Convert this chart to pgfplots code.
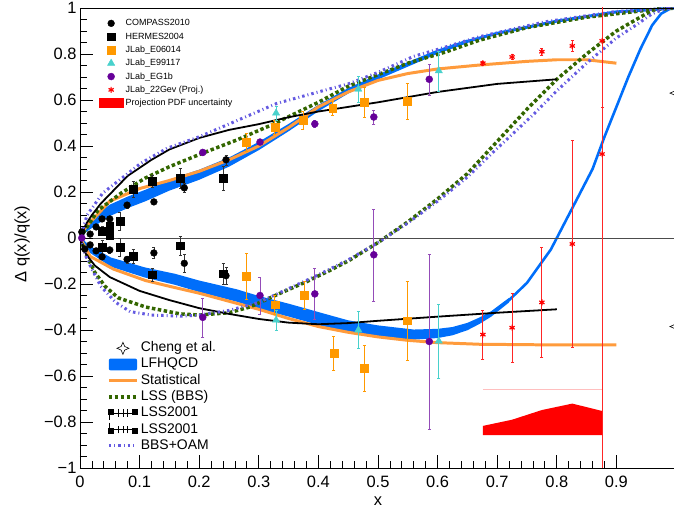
\documentclass[border=0pt]{standalone}
\usepackage{pgfplots}
\pgfplotsset{compat=1.18}
\usepackage{fontspec}
\setmainfont{Liberation Sans}

\definecolor{lfblue}{RGB}{0,110,250}
\definecolor{statorange}{RGB}{255,155,60}
\definecolor{eorange}{RGB}{255,153,0}
\definecolor{lssgreen}{RGB}{51,102,0}
\definecolor{oamviolet}{RGB}{100,90,225}
\definecolor{ecyan}{RGB}{72,209,204}
\definecolor{egpurple}{RGB}{102,0,153}

\pgfdeclareplotmark{star4}{%
  \pgfpathmoveto{\pgfqpoint{0pt}{\pgfplotmarksize}}%
  \pgfpathlineto{\pgfqpoint{0.3\pgfplotmarksize}{0.3\pgfplotmarksize}}%
  \pgfpathlineto{\pgfqpoint{\pgfplotmarksize}{0pt}}%
  \pgfpathlineto{\pgfqpoint{0.3\pgfplotmarksize}{-0.3\pgfplotmarksize}}%
  \pgfpathlineto{\pgfqpoint{0pt}{-\pgfplotmarksize}}%
  \pgfpathlineto{\pgfqpoint{-0.3\pgfplotmarksize}{-0.3\pgfplotmarksize}}%
  \pgfpathlineto{\pgfqpoint{-\pgfplotmarksize}{0pt}}%
  \pgfpathlineto{\pgfqpoint{-0.3\pgfplotmarksize}{0.3\pgfplotmarksize}}%
  \pgfpathclose\pgfusepathqstroke}

\pgfplotsset{
  base/.style={scale only axis, width=596bp, height=460bp,
    xmin=0, xmax=1, ymin=-1, ymax=1, at={(0,0)}, anchor=south west},
  lgmark/.style={legend image code/.code={%
    \draw[mark repeat=2,mark phase=2,##1] plot coordinates {(0cm,0cm) (0.44cm,0cm) (0.88cm,0cm)};}},
  lgcheng/.style={legend image code/.code={%
    \draw[mark repeat=2,mark phase=2,##1] plot coordinates {(0cm,0cm) (0.5cm,0cm) (1cm,0cm)};}},
  lgline/.style={legend image code/.code={\draw[##1] (0cm,0cm) -- (1cm,0cm);}},
  lgband/.style={legend image code/.code={\fill[lfblue, rounded corners=2bp] (0cm,-0.21cm) rectangle (1cm,0.21cm);}},
  lgred/.style={legend image code/.code={\fill[red] (0cm,-0.17cm) rectangle (0.88cm,0.17cm);}},
  lglssA/.style={legend image code/.code={\draw[black,line width=1pt] (0cm,0cm) -- (1cm,0cm);
    \foreach \t in {0.35,0.5,0.65} {\draw[black,line width=0.8pt] (\t cm,-0.13cm) -- (\t cm,0.13cm);}
    \fill[black] (0.08cm,0.05cm) +(-2bp,-2bp) rectangle +(2bp,2bp);
    \fill[black] (0.92cm,0.05cm) +(-2bp,-2bp) rectangle +(2bp,2bp);
    \draw[black,line width=1.2pt] (0.02cm,0.1cm) -- (0.02cm,-0.25cm);}},
  lglssB/.style={legend image code/.code={\draw[black,line width=1pt] (0cm,0cm) -- (1cm,0cm);
    \foreach \t in {0.35,0.5,0.65} {\draw[black,line width=0.8pt] (\t cm,-0.13cm) -- (\t cm,0.13cm);}
    \fill[black] (0.08cm,-0.05cm) +(-2bp,-2bp) rectangle +(2bp,2bp);
    \fill[black] (0.92cm,-0.05cm) +(-2bp,-2bp) rectangle +(2bp,2bp);
    \draw[black,line width=1.2pt] (0.02cm,0.25cm) -- (0.02cm,-0.1cm);}},
  pts/.style={only marks, error bars/y dir=both, error bars/y explicit,
    error bars/error mark options={rotate=90, mark size=1.5pt},
    error bars/error bar style={#1}},
}

\begin{document}
\begin{tikzpicture}
\useasboundingbox (-80bp,-45bp) rectangle (594bp,468bp);

% --- model curves ---
\begin{axis}[base, hide axis,
  legend style={at={(axis description cs:0.045,0.277)}, anchor=north west,
    draw=none, fill=none, inner sep=0pt, row sep=1.2bp,
    font=\fontsize{14}{16}\selectfont,
    nodes={inner xsep=2bp, inner ysep=1bp, text height=10bp, text depth=3bp}},
  legend cell align=left,
]
\addplot[only marks, mark=star4, mark size=6bp, black, line width=0.6pt, lgcheng]
  coordinates {(1,0.63) (1,-0.385)};
\addlegendentry{Cheng et al.}

\addplot[fill=lfblue, draw=none, lgband]
  coordinates {(0,0.005)(0.01,0.055)(0.025,0.097)(0.05,0.145)(0.08,0.18)(0.11,0.21)(0.15,0.254)
  (0.2,0.297)(0.25,0.35)(0.3,0.418)(0.35,0.496)(0.4,0.579)(0.45,0.652)(0.5,0.711)(0.55,0.765)
  (0.6,0.819)(0.65,0.863)(0.65,0.847)(0.6,0.801)(0.55,0.745)(0.5,0.689)(0.45,0.628)(0.4,0.551)
  (0.35,0.464)(0.3,0.382)(0.25,0.31)(0.2,0.253)(0.15,0.206)(0.11,0.16)(0.08,0.13)(0.05,0.095)
  (0.025,0.053)(0.01,0.025)(0,-0.005)} --cycle;
\addlegendentry{LFHQCD}
\addplot[fill=lfblue, draw=none, forget plot]
  coordinates {(0,0.005)(0.017,-0.035)(0.052,-0.085)(0.109,-0.128)(0.16,-0.156)(0.2,-0.185)
  (0.263,-0.223)(0.3,-0.252)(0.352,-0.287)(0.4,-0.322)(0.45,-0.358)(0.5,-0.38)(0.56,-0.398)
  (0.6,-0.395)(0.625,-0.387)(0.65,-0.369)(0.67,-0.346)(0.69,-0.318)(0.72,-0.26)
  (0.72,-0.28)(0.69,-0.342)(0.67,-0.374)(0.65,-0.401)(0.625,-0.423)(0.6,-0.435)(0.56,-0.442)
  (0.5,-0.43)(0.45,-0.412)(0.4,-0.378)(0.352,-0.343)(0.3,-0.308)(0.263,-0.277)(0.2,-0.235)
  (0.16,-0.204)(0.109,-0.172)(0.052,-0.125)(0.017,-0.065)(0,-0.005)} --cycle;
\addplot[lfblue, line width=3pt, forget plot]
  coordinates {(0,0)(0.01,0.04)(0.025,0.075)(0.05,0.12)(0.08,0.155)(0.11,0.185)(0.15,0.23)
  (0.2,0.275)(0.25,0.33)(0.3,0.40)(0.35,0.48)(0.4,0.565)(0.45,0.64)(0.5,0.70)(0.55,0.755)
  (0.6,0.81)(0.65,0.855)(0.7,0.89)(0.8,0.943)(0.9,0.983)(1,1.0)};
\addplot[lfblue, line width=2.6pt, forget plot]
  coordinates {(0,0)(0.017,-0.05)(0.052,-0.105)(0.109,-0.15)(0.16,-0.18)(0.2,-0.21)(0.263,-0.25)
  (0.3,-0.28)(0.352,-0.315)(0.4,-0.35)(0.45,-0.385)(0.5,-0.405)(0.56,-0.42)(0.6,-0.415)
  (0.625,-0.405)(0.65,-0.385)(0.67,-0.36)(0.69,-0.33)(0.72,-0.27)(0.75,-0.195)(0.79,-0.05)
  (0.81,0.05)(0.84,0.2)(0.86,0.30)(0.88,0.44)(0.9,0.57)(0.92,0.70)(0.94,0.82)(0.96,0.925)
  (0.975,0.975)(0.99,0.997)(1,1.0)};

\addplot[statorange, line width=3pt, lgline]
  coordinates {(0,0)(0.01,0.05)(0.025,0.09)(0.05,0.16)(0.1,0.215)(0.15,0.25)(0.2,0.29)
  (0.25,0.34)(0.3,0.40)(0.35,0.48)(0.4,0.57)(0.45,0.635)(0.5,0.685)(0.55,0.715)(0.6,0.735)
  (0.67,0.752)(0.75,0.768)(0.8,0.775)(0.85,0.775)(0.9,0.76)};
\addlegendentry{Statistical}
\addplot[statorange, line width=3pt, forget plot]
  coordinates {(0,0)(0.017,-0.08)(0.056,-0.135)(0.11,-0.185)(0.15,-0.21)(0.2,-0.24)(0.25,-0.275)
  (0.3,-0.31)(0.35,-0.35)(0.4,-0.385)(0.45,-0.41)(0.5,-0.43)(0.55,-0.445)(0.6,-0.455)
  (0.67,-0.462)(0.8,-0.465)(0.9,-0.465)};

\addplot[lssgreen, line width=3.5pt, dash pattern=on 3.5pt off 2.5pt, lgline]
  coordinates {(0,0)(0.01,0.04)(0.03,0.12)(0.069,0.195)(0.109,0.26)(0.15,0.31)(0.207,0.37)
  (0.263,0.426)(0.32,0.49)(0.4,0.59)(0.45,0.66)(0.5,0.71)(0.55,0.76)(0.615,0.81)(0.67,0.86)
  (0.75,0.915)(0.85,0.96)(0.95,0.99)(1,1)};
\addlegendentry{LSS (BBS)}
\addplot[lssgreen, line width=3.5pt, dash pattern=on 3.5pt off 2.5pt, forget plot]
  coordinates {(0,0)(0.01,-0.07)(0.025,-0.15)(0.042,-0.21)(0.064,-0.26)(0.11,-0.30)(0.168,-0.33)
  (0.2,-0.335)(0.25,-0.325)(0.285,-0.30)(0.336,-0.24)(0.38,-0.19)(0.42,-0.14)(0.45,-0.10)
  (0.5,-0.02)(0.55,0.07)(0.6,0.17)(0.65,0.28)(0.7,0.42)(0.75,0.56)(0.8,0.69)(0.85,0.80)
  (0.9,0.90)(0.95,0.975)(0.97,1.0)(1,1)};

\addplot[black, line width=1.8pt, lglssA]
  coordinates {(0,0)(0.01,0.06)(0.02,0.1)(0.035,0.15)(0.05,0.19)(0.08,0.27)(0.12,0.34)
  (0.15,0.385)(0.2,0.435)(0.25,0.47)(0.3,0.495)(0.35,0.525)(0.4,0.55)(0.5,0.59)(0.6,0.635)
  (0.7,0.67)(0.8,0.69)};
\addlegendentry{LSS2001}
\addplot[black, line width=1.8pt, lglssB]
  coordinates {(0,0)(0.01,-0.07)(0.025,-0.12)(0.05,-0.17)(0.1,-0.23)(0.15,-0.27)(0.2,-0.305)
  (0.25,-0.33)(0.3,-0.352)(0.35,-0.368)(0.4,-0.375)(0.45,-0.37)(0.5,-0.36)(0.6,-0.342)
  (0.7,-0.325)(0.8,-0.31)};
\addlegendentry{LSS2001}

\addplot[oamviolet, line width=3pt, dash pattern=on 2.5pt off 3pt on 1pt off 3pt, lgline]
  coordinates {(0,0)(0.012,0.1)(0.038,0.195)(0.08,0.28)(0.102,0.325)(0.146,0.39)(0.2,0.44)
  (0.263,0.51)(0.33,0.585)(0.4,0.635)(0.45,0.67)(0.5,0.72)(0.56,0.79)(0.6,0.82)(0.67,0.875)
  (0.78,0.94)(0.9,0.985)(1,1)};
\addlegendentry{BBS+OAM}
\addplot[oamviolet, line width=3pt, dash pattern=on 2.5pt off 3pt on 1pt off 3pt, forget plot]
  coordinates {(0,0)(0.01,-0.08)(0.018,-0.125)(0.035,-0.21)(0.06,-0.28)(0.084,-0.32)(0.12,-0.335)
  (0.17,-0.34)(0.2,-0.335)(0.25,-0.315)(0.3,-0.28)(0.35,-0.22)(0.4,-0.16)(0.45,-0.095)
  (0.5,-0.02)(0.55,0.065)(0.6,0.16)(0.65,0.265)(0.7,0.39)(0.76,0.535)(0.8,0.64)(0.85,0.76)
  (0.9,0.87)(0.928,0.917)(0.96,0.975)(0.985,1.0)(1,1)};

\addplot[black!70, line width=0.8pt, forget plot] coordinates {(0,0) (1,0)};
\end{axis}

% --- data points, frame and ticks ---
\begin{axis}[base,
  axis line style={line width=0.9pt},
  tick align=inside, tick style={black, line width=0.8pt},
  major tick length=13bp, minor tick length=7bp,
  xtick pos=bottom, ytick pos=left,
  xtick={0,0.1,...,0.9}, minor x tick num=4,
  xticklabels={0,0.1,0.2,0.3,0.4,0.5,0.6,0.7,0.8,0.9},
  ytick={-1,-0.8,...,1}, minor y tick num=3,
  yticklabels={−1,−0.8,−0.6,−0.4,−0.2,0,0.2,0.4,0.6,0.8,1},
  tick label style={font=\fontsize{16.5}{18}\selectfont},
  xticklabel style={yshift=-5bp},
  xlabel={x}, ylabel={Δ q(x)/q(x)},
  every axis x label/.style={at={(axis description cs:0.5,-0.072)}, anchor=center,
    font=\fontsize{16.5}{18}\selectfont},
  every axis y label/.style={at={(axis description cs:-0.097,0.487)}, rotate=90, anchor=center,
    font=\fontsize{16.5}{18}\selectfont},
  legend style={at={(axis description cs:0.031,0.979)}, anchor=north west,
    draw=none, fill=none, inner sep=0pt, row sep=2.3bp,
    font=\fontsize{9}{10}\selectfont,
    nodes={inner xsep=2bp, inner ysep=1bp, text height=7bp, text depth=2bp}},
  legend cell align=left,
]
\addplot[pts={black!80, line width=0.7pt}, lgmark, mark=*, mark size=3.4bp, black]
  coordinates {
  (0.003,0.026) +- (0,0.01) (0.017,0.017) +- (0,0.01) (0.027,0.048) +- (0,0.01)
  (0.037,0.083) +- (0,0.012) (0.05,0.083) +- (0,0.012) (0.079,0.143) +- (0,0.012)
  (0.124,0.157) +- (0,0.012) (0.175,0.218) +- (0,0.02) (0.245,0.34) +- (0,0.022)
  (0.008,-0.048) +- (0,0.01) (0.017,-0.03) +- (0,0.01) (0.027,-0.056) +- (0,0.01)
  (0.037,-0.082) +- (0,0.012) (0.05,-0.052) +- (0,0.012) (0.079,-0.093) +- (0,0.015)
  (0.124,-0.065) +- (0,0.025) (0.175,-0.11) +- (0,0.04) (0.245,-0.164) +- (0,0.035)};
\addlegendentry{COMPASS2010}

\addplot[pts={black!80, line width=0.7pt}, lgmark, mark=square*, mark size=3.8bp, black]
  coordinates {
  (0.037,0.03) +- (0,0.02) (0.05,0.052) +- (0,0.03) (0.05,0.013) +- (0,0.02)
  (0.067,0.074) +- (0,0.04) (0.089,0.213) +- (0,0.036) (0.121,0.248) +- (0,0.025)
  (0.168,0.26) +- (0,0.043) (0.24,0.26) +- (0,0.054)
  (0.037,-0.04) +- (0,0.03) (0.067,-0.04) +- (0,0.04) (0.089,-0.08) +- (0,0.03)
  (0.121,-0.16) +- (0,0.03) (0.168,-0.034) +- (0,0.04) (0.24,-0.156) +- (0,0.047)};
\addlegendentry{HERMES2004}

\addplot[pts={eorange, line width=0.8pt}, lgmark, mark=square*, mark size=3.9bp, eorange]
  coordinates {
  (0.279,0.417) +- (0,0.04) (0.327,0.483) +- (0,0.03) (0.374,0.513) +- (0,0.04)
  (0.424,0.565) +- (0,0.03) (0.477,0.59) +- (0,0.065) (0.549,0.595) +- (0,0.078)
  (0.279,-0.165) +- (0,0.1) (0.327,-0.29) +- (0,0.04) (0.376,-0.248) +- (0,0.06)
  (0.426,-0.50) +- (0,0.075) (0.477,-0.565) +- (0,0.1) (0.549,-0.36) +- (0,0.17)};
\addlegendentry{JLab\_E06014}

\addplot[pts={ecyan, line width=0.8pt}, lgmark, mark=triangle*, mark size=4.2bp, ecyan]
  coordinates {
  (0.329,0.543) +- (0,0.03) (0.467,0.647) +- (0,0.058) (0.602,0.727) +- (0,0.087)
  (0.329,-0.357) +- (0,0.043) (0.467,-0.40) +- (0,0.08) (0.602,-0.448) +- (0,0.16)};
\addlegendentry{JLab\_E99117}

\addplot[pts={egpurple!70, line width=0.8pt}, lgmark, mark=*, mark size=3.5bp, egpurple]
  coordinates {
  (0.003,0.0) +- (0,0.01) (0.206,0.372) +- (0,0.01) (0.302,0.417) +- (0,0.01)
  (0.394,0.496) +- (0,0.015) (0.493,0.526) +- (0,0.03) (0.586,0.69) +- (0,0.067)
  (0.206,-0.345) +- (0,0.085) (0.302,-0.25) +- (0,0.08) (0.394,-0.243) +- (0,0.11)
  (0.493,-0.073) +- (0,0.2) (0.586,-0.45) +- (0,0.38)};
\addlegendentry{JLab\_EG1b}

\addplot[pts={red!85, line width=0.9pt}, lgmark, mark=asterisk, mark size=3bp, red,
  mark options={line width=1.2pt}]
  coordinates {
  (0.676,0.76) +- (0,0.01) (0.725,0.787) +- (0,0.01) (0.775,0.81) +- (0,0.015)
  (0.826,0.835) +- (0,0.024) (0.876,0.857) +- (0,0.29)
  (0.676,-0.42) +- (0,0.105) (0.725,-0.39) +- (0,0.15) (0.775,-0.28) +- (0,0.24)
  (0.826,-0.026) +- (0,0.45) (0.876,0.365) +- (0,1.5)};
\addlegendentry{JLab\_22Gev (Proj.)}

\addplot[fill=red, draw=none, lgred]
  coordinates {(0.676,-0.857)(0.676,-0.817)(0.725,-0.79)(0.775,-0.748)(0.826,-0.72)
  (0.876,-0.752)(0.876,-0.857)} --cycle;
\addlegendentry{Projection PDF uncertainty}
\addplot[red!25, line width=0.8pt, forget plot] coordinates {(0.676,-0.657) (0.876,-0.657)};
\end{axis}
\end{tikzpicture}
\end{document}
